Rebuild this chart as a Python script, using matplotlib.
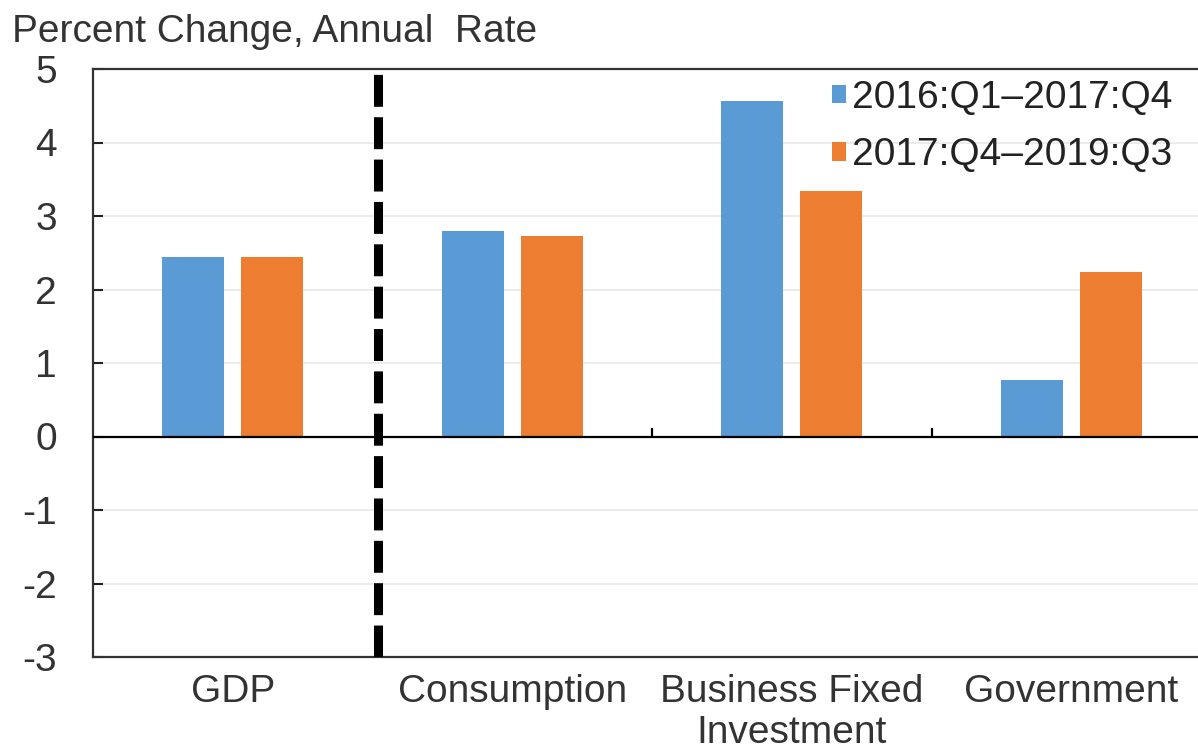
import matplotlib
matplotlib.use("Agg")
import matplotlib.pyplot as plt
from matplotlib.patches import Patch
import numpy as np

categories = ["GDP", "Consumption", "Business Fixed\nInvestment", "Government"]
series_names = ["2016:Q1\u20132017:Q4", "2017:Q4\u20132019:Q3"]
period1 = [2.44, 2.80, 4.57, 0.77]
period2 = [2.44, 2.73, 3.34, 2.24]
yticks = [-3, -2, -1, 0, 1, 2, 3, 4, 5]
divider_pos = 0.52

BLUE = "#5B9BD5"
ORANGE = "#ED7D31"

plt.rcParams["font.family"] = ["Liberation Sans", "DejaVu Sans"]
plt.rcParams["lines.scale_dashes"] = False
FS = 28

fig = plt.figure(figsize=(11.98, 7.56), dpi=100)
ax = fig.add_axes([93 / 1198, 99 / 756, (1211 - 93) / 1198, (687 - 99) / 756])

x = np.arange(len(categories))
w = 0.222
off = 0.141
ax.bar(x - off, period1, width=w, color=BLUE, zorder=3)
ax.bar(x + off, period2, width=w, color=ORANGE, zorder=3)

ax.set_xlim(-0.5, len(categories) - 0.5)
ax.set_ylim(min(yticks), max(yticks))
ax.set_yticks(yticks)
ax.set_yticklabels([str(t) for t in yticks], fontsize=FS)
ax.set_xticks(x)
ax.set_xticklabels(categories, fontsize=FS, linespacing=1.2)
ax.tick_params(axis="x", length=0, pad=12)
ax.tick_params(axis="y", direction="in", length=7, width=1.5, pad=26, colors="#222222", labelcolor="#333333")
ax.tick_params(axis="x", labelcolor="#333333")

for v in yticks:
    ax.axhline(v, color="#E8E8E8", lw=1.2, zorder=1)
ax.axhline(0, color="black", lw=1.6, zorder=4)

# category separator ticks on the zero line
bounds = np.arange(1, len(categories) - 1) + 0.5
ax.vlines(bounds, 0, 0.11, color="black", lw=1.6, zorder=4)

# dashed divider between GDP and components
ax.axvline(divider_pos, color="black", lw=6.5, dashes=(23, 7.5), zorder=5)

for s in ax.spines.values():
    s.set_linewidth(1.6)
    s.set_color("#333333")

handles = [Patch(facecolor=BLUE, edgecolor="none"), Patch(facecolor=ORANGE, edgecolor="none")]
leg = fig.legend(handles, series_names, loc="upper left", bbox_to_anchor=(832 / 1198, 1 - 80 / 756),
                 frameon=False, fontsize=FS, handlelength=0.36, handleheight=0.36,
                 handletextpad=0.15, labelspacing=0.55, borderpad=0, borderaxespad=0)
for t in leg.get_texts():
    t.set_color("#222222")

fig.text(12 / 1198, 1 - 32 / 756, "Percent Change, Annual  Rate", fontsize=FS, color="#333333",
         ha="left", va="center")

fig.savefig("out.png", dpi=100)
